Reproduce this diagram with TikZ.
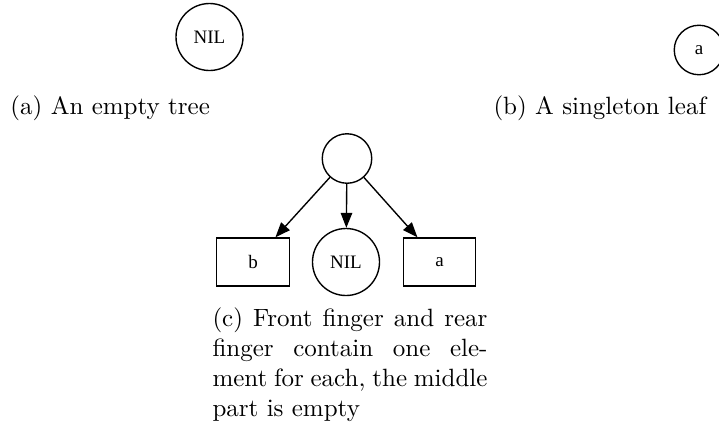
\documentclass[tikz,border=0pt]{standalone}
\usepackage{fontspec}
\newfontfamily\gvfont{Liberation Serif}
\usetikzlibrary{positioning,arrows.meta}

\begin{document}
\begin{tikzpicture}[x=0.4pt, y=-0.4pt,
      gvnode/.style={draw, line width=0.55pt, inner sep=0pt,
                     font=\gvfont\fontsize{7.6}{9}\selectfont},
      emptynode/.style={gvnode, circle, minimum size=19.8pt},
      nilnode/.style={gvnode, circle, minimum size=26.8pt},
      singlenode/.style={gvnode, circle, minimum size=19.8pt},
      leafbox/.style={gvnode, rectangle, minimum width=29pt, minimum height=19.2pt},
      subcap/.style={inner sep=0pt, font=\fontsize{10}{12}\selectfont},
      edge/.style={-{Triangle[length=6pt, width=4.6pt]}, line width=0.55pt}]
      \useasboundingbox (0,0) rectangle (719,435);
      % (a) empty tree
      \node[nilnode] (nilA) at (209.5,37) {NIL};
      \node[subcap, anchor=base west] (capA) at (10,114) {(a) An empty tree};
      % (b) singleton leaf
      \node[singlenode] (leafB) at (699,50) {a};
      \node[subcap, anchor=base west] (capB) at (493,114) {(b) A singleton leaf};
      % (c) deep tree
      \node[emptynode] (root) at (347,158.5) {};
      \node[nilnode] (nilC) at (346,262) {NIL};
      \node[leafbox] (front) at (253,262) {b};
      \node[leafbox] (rear) at (439.5,262) {a};
      \draw[edge] (root) -- (front);
      \draw[edge] (root) -- (nilC);
      \draw[edge] (root) -- (rear);
      \node[subcap, anchor=north west, text width=110pt, align=justify] (capC) at (212,307)
        {(c) Front finger and rear finger contain one element for each, the middle part is empty};
    \end{tikzpicture}
\end{document}
